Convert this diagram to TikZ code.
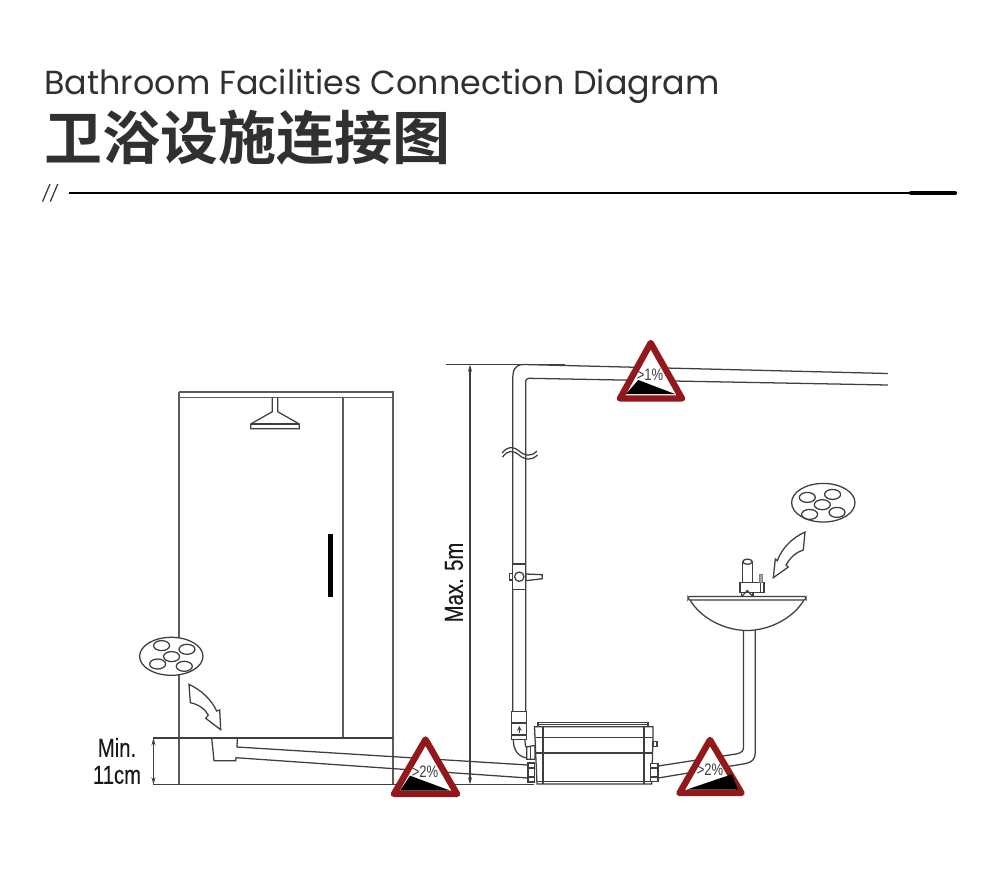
\documentclass[tikz,border=0pt]{standalone}
\usepackage{fontspec}
\usetikzlibrary{arrows.meta}
\setmainfont{Poppins}
\newfontfamily\cjkfont{Noto Sans CJK SC Bold}
\newfontfamily\narrowfont[FakeStretch=0.78]{Liberation Sans}
\newfontfamily\dimfont[FakeStretch=0.78,FakeBold=0.3]{Liberation Sans}
\definecolor{inkline}{RGB}{62,62,62}
\definecolor{signred}{RGB}{146,24,28}
\definecolor{titleink}{RGB}{48,48,48}
\tikzset{every picture/.style={line width=0.75pt}}
\tikzset{
  pipeline/.style={draw=inkline,line width=0.95pt},
  wallline/.style={draw=inkline!85,line width=1.2pt},
  warnsign/.style={draw=signred,fill=white,line width=4.8pt,line join=round},
  wedge/.style={fill=black,draw=none},
  slopetext/.style={font=\narrowfont\fontsize{12.5}{12.5}\selectfont,text=inkline,inner sep=0pt},
  dimtext/.style={font=\dimfont\fontsize{19.5}{20.2}\selectfont,text=black!90,inner sep=0pt,align=center},
  dimtip/.style={>={Stealth[length=5.5pt,width=3pt]}},
}

\begin{document}
\begin{tikzpicture}[x=0.75pt,y=0.75pt,yscale=-1,xscale=1]
\useasboundingbox (0,0) rectangle (1000,890);

% Title
\node (titleen) [anchor=base west,inner sep=0pt,text=titleink,font=\fontsize{25}{25}\selectfont] at (44,94) {Bathroom Facilities Connection Diagram};
\node (titlecn) [anchor=base west,inner sep=0pt,text=titleink,font=\cjkfont\fontsize{43.5}{43.5}\selectfont] at (44,159) {卫浴设施连接图};
\node (slashes) [anchor=west,inner sep=0pt,text=titleink,font=\fontsize{12}{12}\selectfont\itshape] at (42,193) {//};
\draw [black,line width=1.1pt] (69,193) -- (957,193);
\draw [black,line width=3.2pt,line cap=round] (911,193) -- (955,193);

%Shower cabin
\draw [wallline] (179,391.7) -- (393,391.7) -- (393,784.5);
\draw [wallline] (179,397.3) -- (393,397.3);
\draw [wallline] (179,391.7) -- (179,785);
\draw [wallline] (342.7,397.3) -- (342.7,738);
\draw [pipeline] (153,738) -- (393,738);
\draw [pipeline] (153,784.5) -- (534,784.5);
%Shower head
\draw [pipeline] (272.3,397.3) -- (272.3,411.7) -- (250.7,424) -- (250.7,428.7) -- (299.3,428.7) -- (299.3,424) -- (277.7,411.7) -- (277.7,397.3);
\draw [pipeline] (250.7,424) -- (299.3,424);
%Door handle
\fill [black] (327.7,534.3) rectangle (332.7,596.7);
%Min height
\draw [pipeline,dimtip,<->] (153.5,738) -- (153.5,784.5);
\node (minheight) [dimtext] at (117,761) {Min.\\11cm};

%Floor drain and left pipe
\draw [pipeline] (211.7,738) -- (214,760.7) -- (235.7,760.7) -- (236,757.7) -- (528,778);
\draw [pipeline] (237.3,738) -- (237,747) -- (528,765);

%Left aerator
\draw [pipeline,fill=white] (171.3,656.3) ellipse (31.7 and 19);
\foreach \dx/\dy in {-9.7/-10.7,15.7/-7,0.3/0.3,-13.7/7.7,13/10}
  \draw [pipeline] (171.3+\dx,656.3+\dy) ellipse (8 and 5);
%Left curved arrow
\draw [pipeline,fill=white] (189,684.3) -- (190.3,702.7) .. controls (198,704) and (205,709) .. (208.3,715) -- (205.7,718.3) -- (220.7,729.7) -- (219.7,710) -- (216.7,711) .. controls (211,699) and (201,690) .. (189,684.3) -- cycle;

%Drain pipe riser
\draw [pipeline] (512.7,711) -- (512.7,382) .. controls (512.7,370) and (514,364.5) .. (524,364.5) -- (888,373.5);
\draw [pipeline] (525.7,711) -- (525.7,383) .. controls (525.7,379.5) and (526.5,378.3) .. (529,378.3) -- (888,385);
\draw [pipeline] (445.7,364.3) -- (565,364.3);
%Break mark
\draw [pipeline] (502,453) .. controls (508,446) and (513,446) .. (519,451) .. controls (525,456) and (531,457) .. (537,451);
\draw [pipeline] (502.5,457) .. controls (508,450) and (513,450) .. (519,455) .. controls (525,460) and (531,461) .. (537.5,455);
%Valve
\draw [pipeline,fill=white] (512.3,564) rectangle (525.7,589.3);
\draw [pipeline,fill=white] (509.3,573.3) rectangle (512.3,580);
\draw [pipeline,fill=white] (526,574) -- (542.3,574.7) -- (542.3,578.7) -- (526,580.7) -- cycle;
\draw [pipeline,fill=white] (519.3,576.7) circle (4.7);
%Coupling and elbow
\draw [pipeline,fill=white] (511.7,711.7) rectangle (526.7,739.3);
\draw [pipeline] (511.7,723) -- (526.7,723);
\draw [pipeline] (511.7,735) -- (526.7,735);
\draw [pipeline,->,>=stealth,line width=0.6pt] (519.3,733) -- (519.3,726);
\draw [pipeline] (513.3,739.3) .. controls (513.3,750) and (518,757) .. (528.3,758.3);
\draw [pipeline] (525,739.3) .. controls (525,744) and (525.5,746.5) .. (526.7,748.3);
\draw [pipeline,fill=white] (526.7,747) -- (533,745.7) -- (535,745.7) -- (535,759.3) -- (526.7,759.3) -- cycle;
\draw [pipeline] (530.5,746) -- (530.5,759);

%Pump box
\draw [pipeline,fill=white] (534.5,726.7) -- (653,726.7) -- (653,737.5) -- (651.7,784) -- (537,784) -- (535,737.5) -- cycle;
\draw [pipeline] (538,726.7) -- (538,722.7) -- (648,722.7) -- (648,726.7);
\draw [pipeline] (538,724.4) -- (648,724.4);
\draw [pipeline] (535,737.5) -- (653,737.5);
\draw [pipeline,line width=1.5pt] (536,753) -- (652,753);
\draw [pipeline] (543,726.7) -- (543,784);
\draw [pipeline] (644,726.7) -- (644,784);
\draw [pipeline] (537,781.5) -- (651.7,781.5);
\draw [pipeline,fill=white] (653,741.7) rectangle (657,746.7);
%Flanges
\draw [pipeline,fill=white] (528,763) rectangle (534.5,782);
\draw [pipeline] (528,768) -- (534.5,768);
\draw [pipeline] (528,777) -- (534.5,777);
\draw [pipeline,fill=white] (650.5,763.3) rectangle (658,781.7);
\draw [pipeline] (650.5,768) -- (658,768);
\draw [pipeline] (650.5,777) -- (658,777);

%Basin pipe
\draw [pipeline] (658,766) -- (736,754) .. controls (741.5,753) and (743.5,751) .. (743.5,747) -- (743.5,630);
\draw [pipeline] (658,778) -- (746,763.5) .. controls (752.5,762) and (755.3,759) .. (755.3,752) -- (755.3,630);

%Basin
\draw [pipeline,fill=white] (690,600) .. controls (702,620) and (727,630.5) .. (747,630.5) .. controls (767,630.5) and (792,620) .. (804,600);
\draw [pipeline,fill=white,rounded corners=1.5pt] (688,596.5) rectangle (806,600);
%Faucet
\draw [pipeline,fill=white] (742.7,561.7) -- (742.7,582.7) -- (752.7,582.7) -- (752.7,561.7);
\draw [pipeline,fill=white] (747.5,561.7) ellipse (4.7 and 2.6);
\draw [pipeline,fill=white] (740,582.7) rectangle (764,592.7);
\draw [pipeline] (741.7,592.7) -- (741.7,596.5);
\draw [pipeline] (753,592.7) -- (753,596.5);
\draw [pipeline] (741.7,596.5) -- (747.3,590.5) -- (753,596.5);
\draw [pipeline] (760.5,582.7) -- (760.5,592.7);
\draw [draw=gray,fill=gray!70,line width=0.5pt] (759.5,574) rectangle (762.5,582.7);

%Right aerator
\draw [pipeline,fill=white] (823.3,502.7) ellipse (31.7 and 19.3);
\foreach \dx/\dy in {-16/-5.3,9.3/-8.3,-1/2,-13.7/11.7,13.7/9.7}
  \draw [pipeline] (823.3+\dx,502.7+\dy) ellipse (8 and 5);
%Right curved arrow
\draw [pipeline,fill=white] (805,532) -- (803.3,550) .. controls (796,552) and (790,558) .. (786,565) -- (788.3,567) -- (773.3,577.7) -- (775.3,559) -- (777.3,560.7) .. controls (782,548) and (792,538) .. (805,532) -- cycle;

%Height dimension
\draw [pipeline,dimtip,<->] (470,364.5) -- (470,784.5);
\node (maxheight) [dimtext,rotate=90] at (454,582.5) {Max. 5m};

%Slope signs
\draw [warnsign] (425.5,739.5) -- (394,794) -- (457,794) -- cycle;
\fill [wedge] (410,775.7) -- (450,790.5) -- (400,790.5) -- cycle;
\node (slopeleft) [slopetext] at (425,771.5) {>2\%};

\draw [warnsign] (710,740) -- (679.5,793) -- (741.5,793) -- cycle;
\fill [wedge] (687,789.5) -- (731.7,774.3) -- (738,789.5) -- cycle;
\node (sloperight) [slopetext] at (710,770) {>2\%};

\draw [warnsign] (650.7,343) -- (620,398.5) -- (682,398.5) -- cycle;
\fill [wedge] (638.3,380) -- (675,394) -- (626,394) -- cycle;
\node (slopetop) [slopetext] at (650,375) {>1\%};

\end{tikzpicture}
\end{document}
